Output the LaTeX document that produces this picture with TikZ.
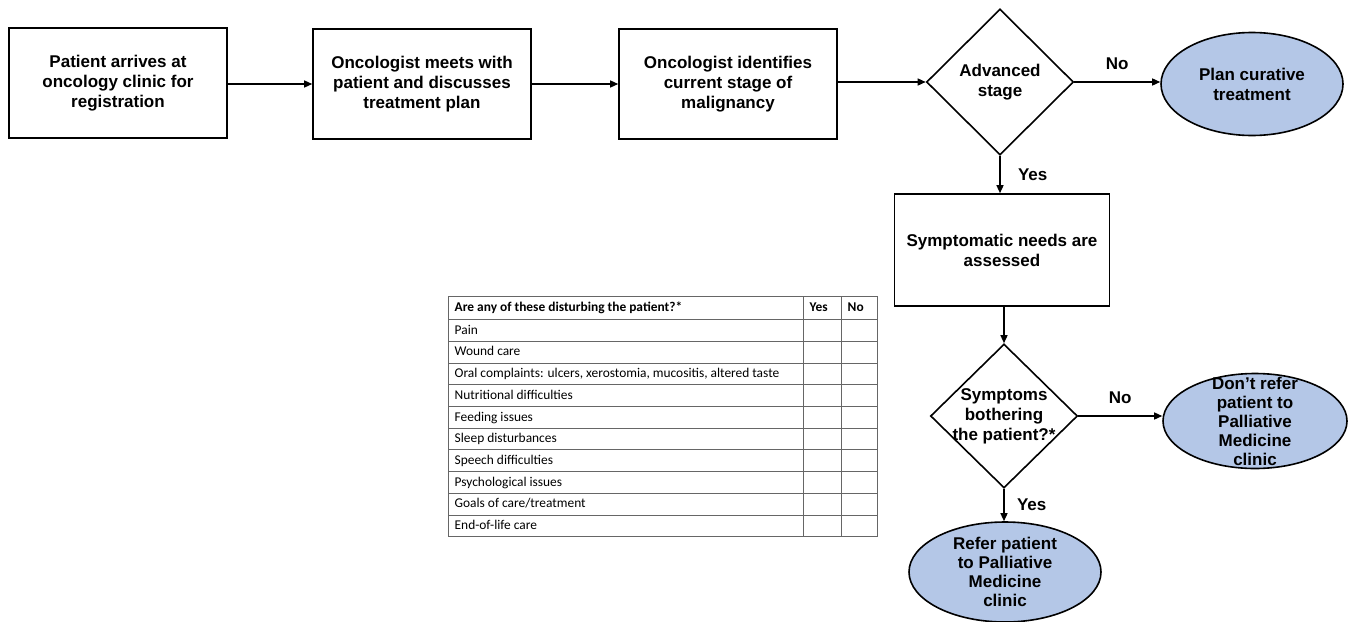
\documentclass[tikz,border=0pt]{standalone}
\usepackage{fontspec}
\setmainfont{Liberation Sans}
\newfontfamily\tablefont{Carlito}
\usepackage{colortbl}
\usetikzlibrary{arrows.meta}
\usetikzlibrary{shapes.geometric}
\usetikzlibrary{positioning}

\definecolor{ovalblue}{RGB}{180,199,231}
\setlength\arrayrulewidth{1pt}
\setlength\tabcolsep{5.5pt}
\arrayrulecolor{black!60}

\newcommand\rowstrut{\rule[-6.7pt]{0pt}{20.7pt}}
\newcommand\headstrut{\rule[-7.5pt]{0pt}{22pt}}

\tikzset{
	flowtext/.style = {font=\fontsize{17}{20}\selectfont\bfseries, align=center},
	stepbox/.style = {draw, line width=1.6pt, minimum width=218pt, minimum height=110pt, flowtext},
	decision/.style = {diamond, draw, line width=1.6pt, minimum width=147pt, minimum height=146pt, inner sep=0pt},
	outcome/.style = {ellipse, draw, line width=1.6pt, fill=ovalblue, inner sep=0pt},
	inside/.style = {flowtext, inner sep=0pt},
	answer/.style = {font=\fontsize{17}{20}\selectfont\bfseries},
	flow/.style = {line width=1.4pt, -{Triangle[length=8pt,width=7pt]}}
}

\begin{document}
\begin{tikzpicture}[x=1pt, y=-1pt]
		\useasboundingbox (0,0) rectangle (1351,621);

		% top row
		\node[stepbox] (arrive) at (118,83) {Patient arrives at\\oncology clinic for\\registration};
		\node[stepbox] (meet) at (422,84) {Oncologist meets with\\patient and discusses\\treatment plan};
		\node[stepbox] (stage) at (728,84) {Oncologist identifies\\current stage of\\malignancy};
		\node[decision, label={[inside]center:Advanced\\stage}] (advanced) at (1000,82) {};
		\node[outcome, minimum width=182pt, minimum height=103pt,
			label={[inside]center:Plan curative\\treatment}] (curative) at (1252,84) {};

		% right column
		\node[stepbox, minimum width=215pt, minimum height=112pt] (assess) at (1002,250) {Symptomatic needs are\\assessed};
		\node[decision, minimum height=144pt,
			label={[inside]center:Symptoms\\bothering\\the patient?*}] (bother) at (1004,416) {};
		\node[outcome, minimum width=184pt, minimum height=95pt,
			label={[inside, font=\fontsize{17}{19}\selectfont\bfseries]center:Don't refer\\patient to\\Palliative\\Medicine\\clinic}] (norefer) at (1255,421) {};
		\node[outcome, minimum width=192pt, minimum height=100pt,
			label={[inside, font=\fontsize{17}{19}\selectfont\bfseries]center:Refer patient\\to Palliative\\Medicine\\clinic}] (refer) at (1005,572) {};

		% checklist
		\node[anchor=north west, inner sep=0pt, font=\tablefont\fontsize{13.4}{15}\selectfont] (checklist) at (448,296) {%
			\begin{tabular}{|p{343pt}|p{26pt}|p{24pt}|} \hline
			\headstrut\bfseries Are any of these disturbing the patient?* & \bfseries Yes & \bfseries No\\\hline
			\rowstrut Pain & & \\\hline
			\rowstrut Wound care & & \\\hline
			\rowstrut Oral complaints: ulcers, xerostomia, mucositis, altered taste & & \\\hline
			\rowstrut Nutritional difficulties & & \\\hline
			\rowstrut Feeding issues & & \\\hline
			\rowstrut Sleep disturbances & & \\\hline
			\rowstrut Speech difficulties & & \\\hline
			\rowstrut Psychological issues & & \\\hline
			\rowstrut Goals of care/treatment & & \\\hline
			\rowstrut End-of-life care & & \\\hline
			\end{tabular}};

		% connectors
		\draw[flow] (arrive.east |- meet.west) -- (meet.west);
		\draw[flow] (meet) -- (stage);
		\draw[flow] (stage.east |- advanced.west) -- (advanced.west);
		\draw[flow] (advanced.east) -- node[answer, above=8pt] {No} (advanced.east -| curative.west);
		\draw[flow] (advanced.south) -- node[answer, right=14pt] {Yes} (advanced.south |- assess.north);
		\draw[flow] (assess.south -| bother.north) -- (bother.north);
		\draw[flow] (bother.east) -- node[answer, above=8pt] {No} (bother.east -| norefer.west);
		\draw[flow] (bother.south) -- node[answer, right=9pt] {Yes} (bother.south |- refer.north);
\end{tikzpicture}
\end{document}
